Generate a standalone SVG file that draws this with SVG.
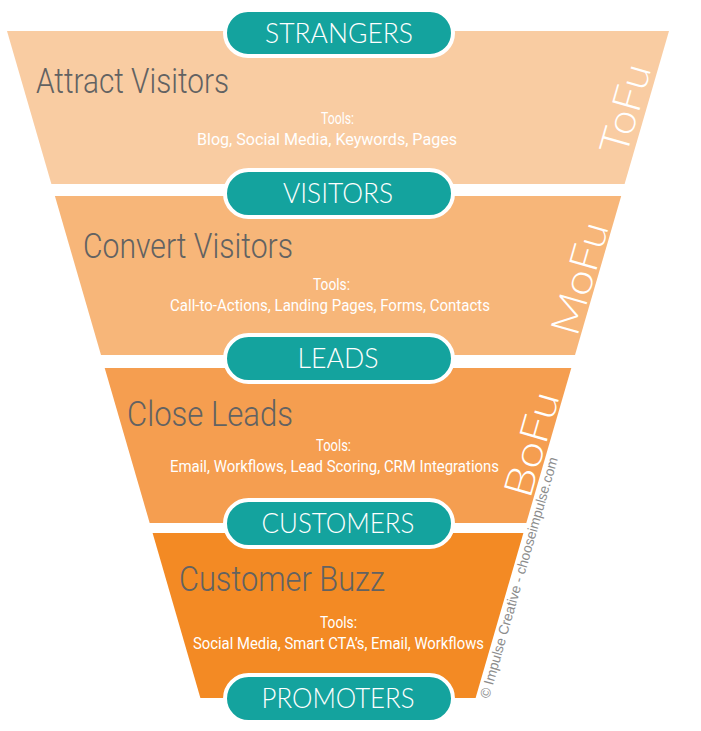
<svg xmlns="http://www.w3.org/2000/svg" width="701" height="731" viewBox="0 0 701 731">
<style>
.pill{fill:#14A39E;stroke:#FFFFFF;stroke-width:4}
.pt{font-family:Lato,"Open Sans",sans-serif;font-weight:300;font-size:27px;fill:#FFFFFF;text-anchor:middle}
.hd{font-family:Roboto,"Liberation Sans",sans-serif;font-weight:300;font-size:35px;fill:#626262}
.tl{font-family:Roboto,"Liberation Sans",Arial,sans-serif;font-size:16px;fill:#FFFFFF}
.fu{font-family:Lato,"Open Sans",sans-serif;font-weight:300;font-size:40px;fill:#FFFFFF}
.cp{font-family:"Liberation Sans",Arial,sans-serif;font-size:14px;fill:#8C8C8C}
</style>
<rect width="701" height="731" fill="#FFFFFF"/>
<g id="tofu">
<polygon points="7,31 669,31 624.6,184 51.4,184" fill="#F9CCA2"/>
<text class="hd" x="36" y="93" textLength="193" lengthAdjust="spacingAndGlyphs">Attract Visitors</text>
<text class="tl" x="321" y="124" textLength="33" lengthAdjust="spacingAndGlyphs">Tools:</text>
<text class="tl" x="197" y="145" textLength="260" lengthAdjust="spacingAndGlyphs">Blog, Social Media, Keywords, Pages</text>
<text class="fu" transform="translate(626,157) rotate(-74)" textLength="92" lengthAdjust="spacingAndGlyphs">ToFu</text>
</g>
<g id="mofu">
<polygon points="54.9,196 621.2,196 575,355 101,355" fill="#F7B679"/>
<text class="hd" x="83" y="258" textLength="210" lengthAdjust="spacingAndGlyphs">Convert Visitors</text>
<text class="tl" x="313" y="290" textLength="37" lengthAdjust="spacingAndGlyphs">Tools:</text>
<text class="tl" x="170" y="311" textLength="320" lengthAdjust="spacingAndGlyphs">Call-to-Actions, Landing Pages, Forms, Contacts</text>
<text class="fu" transform="translate(577,338) rotate(-74)" textLength="116" lengthAdjust="spacingAndGlyphs">MoFu</text>
</g>
<g id="bofu">
<polygon points="104.7,368 571.3,368 526.3,523 149.7,523" fill="#F59E50"/>
<text class="hd" x="127" y="426" textLength="166" lengthAdjust="spacingAndGlyphs">Close Leads</text>
<text class="tl" x="316" y="451" textLength="35" lengthAdjust="spacingAndGlyphs">Tools:</text>
<text class="tl" x="170" y="472" textLength="329" lengthAdjust="spacingAndGlyphs">Email, Workflows, Lead Scoring, CRM Integrations</text>
<text class="fu" transform="translate(530,500) rotate(-74)" textLength="108" lengthAdjust="spacingAndGlyphs">BoFu</text>
</g>
<g id="buzz">
<polygon points="152.6,533 523.4,533 475.6,698 200.4,698" fill="#F38A24"/>
<text class="hd" x="179" y="591" textLength="206" lengthAdjust="spacingAndGlyphs">Customer Buzz</text>
<text class="tl" x="320" y="628" textLength="37" lengthAdjust="spacingAndGlyphs">Tools:</text>
<text class="tl" x="193" y="649" textLength="291" lengthAdjust="spacingAndGlyphs">Social Media, Smart CTA’s, Email, Workflows</text>
</g>
<g id="strangers">
<rect class="pill" x="225" y="10" width="228" height="46" rx="23"/>
<text class="pt" x="339" y="43" textLength="148" lengthAdjust="spacingAndGlyphs">STRANGERS</text>
</g>
<g id="visitors">
<rect class="pill" x="225" y="170" width="228" height="47" rx="23.5"/>
<text class="pt" x="338" y="203" textLength="110" lengthAdjust="spacingAndGlyphs">VISITORS</text>
</g>
<g id="leads">
<rect class="pill" x="225" y="335" width="228" height="47" rx="23.5"/>
<text class="pt" x="338" y="368" textLength="81" lengthAdjust="spacingAndGlyphs">LEADS</text>
</g>
<g id="customers">
<rect class="pill" x="225" y="500" width="228" height="47" rx="23.5"/>
<text class="pt" x="338" y="533" textLength="153" lengthAdjust="spacingAndGlyphs">CUSTOMERS</text>
</g>
<g id="promoters">
<rect class="pill" x="225" y="675" width="228" height="47" rx="23.5"/>
<text class="pt" x="338" y="708" textLength="153" lengthAdjust="spacingAndGlyphs">PROMOTERS</text>
</g>
<g id="credit">
<text class="cp" transform="translate(489,699) rotate(-74)" textLength="250" lengthAdjust="spacingAndGlyphs">© Impulse Creative - chooseimpulse.com</text>
</g>
<g id="connectors"/>
</svg>
